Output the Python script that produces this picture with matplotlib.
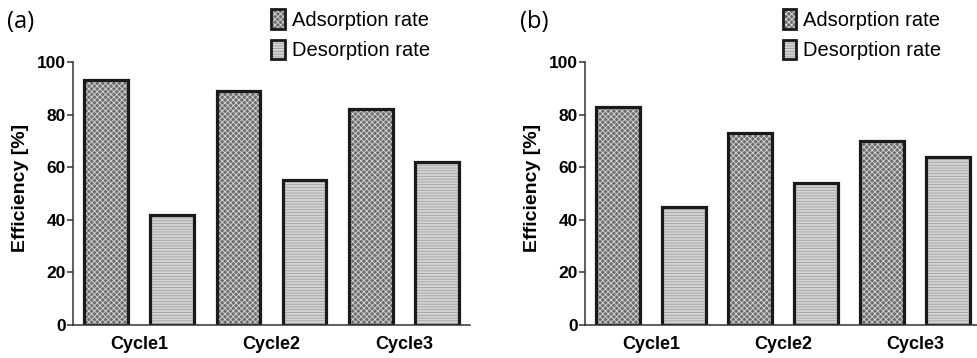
import numpy as np
import matplotlib
matplotlib.use('Agg')
import matplotlib.pyplot as plt
from matplotlib.patches import Patch
from matplotlib.legend_handler import HandlerTuple

plt.rcParams['font.family'] = ['Liberation Sans', 'DejaVu Sans']
plt.rcParams['hatch.linewidth'] = 0.6

# Datos
cycles = ['Cycle1', 'Cycle2', 'Cycle3']
ads_a = [93, 89, 82]
des_a = [42, 55, 62]
ads_b = [83, 73, 70]
des_b = [45, 54, 64]

panels = ['(a)', '(b)']
labels = ['Adsorption rate', 'Desorption rate']

# Estilos de relleno
ads_style = dict(facecolor='#6e6e6e', edgecolor='#d8d8d8', hatch='xxxxxx')
des_style = dict(facecolor='#d4d4d4', edgecolor='#a0a0a0', hatch='------')

fig = plt.figure(figsize=(9.78, 3.58), dpi=100)
ax_a = fig.add_axes([73/978, 33/358, 397/978, 263/358])
ax_b = fig.add_axes([585/978, 33/358, 396/978, 263/358])

x = np.arange(len(cycles))
w = 0.33

def draw_panel(ax, ads, des, tag):
    ax.bar(x - 0.25, ads, w, linewidth=0, **ads_style)
    ax.bar(x + 0.25, des, w, linewidth=0, **des_style)
    ax.bar(x - 0.25, ads, w, fill=False, edgecolor='#1a1a1a', linewidth=2.3)
    ax.bar(x + 0.25, des, w, fill=False, edgecolor='#1a1a1a', linewidth=2.3)

    ax.set_xlim(-0.5, 2.5)
    ax.set_ylim(0, 100)
    ax.set_yticks(np.arange(0, 101, 20))
    ax.set_xticks(x)
    ax.set_xticklabels(cycles, fontsize=13, fontweight='bold')
    for t in ax.get_yticklabels():
        t.set_fontsize(12.5)
        t.set_fontweight('bold')
    ax.tick_params(axis='x', length=0, pad=8)
    ax.tick_params(axis='y', length=4, width=1.1, color='#333333', pad=1)
    for s in ['top', 'right']:
        ax.spines[s].set_visible(False)
    for s in ['left', 'bottom']:
        ax.spines[s].set_linewidth(1.1)
        ax.spines[s].set_color('#333333')
    ax.set_ylabel('Efficiency [%]', fontsize=14, fontweight='bold')
    ax.yaxis.set_label_coords(-0.11, 0.52)

    h_ads = (Patch(linewidth=0, **ads_style),
             Patch(fill=False, edgecolor='#1a1a1a', linewidth=2.0))
    h_des = (Patch(linewidth=0, **des_style),
             Patch(fill=False, edgecolor='#1a1a1a', linewidth=2.0))
    ax.legend([h_ads, h_des], labels,
              handler_map={tuple: HandlerTuple(ndivide=1)},
              loc='upper left', bbox_to_anchor=(0.5, 1.2), frameon=False,
              fontsize=14.5, handlelength=0.65, handleheight=1.1,
              handletextpad=0.35, labelspacing=0.5, borderpad=0,
              borderaxespad=0)
    ax.text(-0.165, 1.152, tag, transform=ax.transAxes, fontsize=17,
            family=['Open Sans', 'DejaVu Sans'], va='center', ha='left')

draw_panel(ax_a, ads_a, des_a, panels[0])
draw_panel(ax_b, ads_b, des_b, panels[1])

fig.savefig('out.png', dpi=100)
